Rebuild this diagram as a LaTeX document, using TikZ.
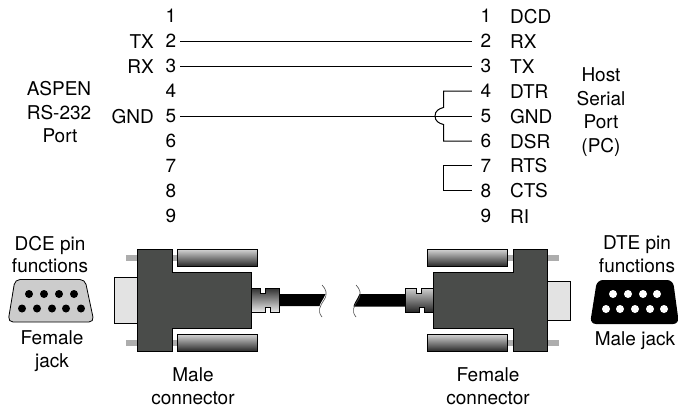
\documentclass[tikz,border=0pt]{standalone}
\usepackage{fontspec}
\setmainfont{TeX Gyre Heros}
\definecolor{bodygray}{HTML}{4A4C4A}
\tikzset{
  lbl/.style={inner sep=0pt,font=\fontsize{19}{19}\selectfont,anchor=base,text=black},
  lblR/.style={lbl,anchor=base east},
  lblL/.style={lbl,anchor=base west},
  pinnode/.style={lbl},
  wire/.style={draw=black,line width=1pt},
  body/.style={fill=bodygray,draw=black,line width=.6pt},
  shell/.style={fill=black!11,draw=black,line width=.6pt},
  pin/.style={fill=black!32,draw=none},
  screw/.style={top color=black!18,bottom color=black!85,draw=black,line width=.8pt},
  reliefdown/.style={top color=black!80,bottom color=black!8,draw=black,line width=.6pt},
  reliefup/.style={top color=black!20,bottom color=black!85,draw=black,line width=.6pt},
  cable/.style={fill=black,draw=none},
  brk/.style={draw=black!70,line width=.6pt},
}
\begin{document}
\begin{tikzpicture}[x=1pt,y=-1pt]
\useasboundingbox (0,0) rectangle (678,408);
% pin numbers
\foreach \n/\y in {1/22.8,2/47.8,3/72.8,4/97.8,5/122.8,6/147.8,7/172.3,8/197.5,9/222.8}{
  \node[pinnode] (l\n) at (171,\y) {\n};
  \node[pinnode] (r\n) at (486,\y) {\n};
}
% left labels
\node[lblR] (ltx) at (154,48.5) {TX};
\node[lblR] (lrx) at (154,73.5) {RX};
\node[lblR] (lgnd) at (154,123.5) {GND};
\node[lbl] (a1) at (59,95) {ASPEN};
\node[lbl] (a2) at (59,119) {RS-232};
\node[lbl] (a3) at (60,142) {Port};
% right labels
\node[lblL] (rdcd) at (510,23) {DCD};
\node[lblL] (rrx) at (510,48) {RX};
\node[lblL] (rtx) at (510,73) {TX};
\node[lblL] (rdtr) at (510,98) {DTR};
\node[lblL] (rgnd) at (510,123) {GND};
\node[lblL] (rdsr) at (510,148) {DSR};
\node[lblL] (rrts) at (510,172.5) {RTS};
\node[lblL] (rcts) at (510,197.5) {CTS};
\node[lblL] (rri) at (510,223) {RI};
\node[lbl] (h1) at (601,81) {Host};
\node[lbl] (h2) at (601,105) {Serial};
\node[lbl] (h3) at (601,128) {Port};
\node[lbl] (h4) at (601,152) {(PC)};
% wires
\draw[wire,shorten <=3.7pt,shorten >=8.7pt] (l2.east) -- (r2.west);
\draw[wire,shorten <=3.7pt,shorten >=8.7pt] (l3.east) -- (r3.west);
\draw[wire,shorten <=3.7pt,shorten >=8.7pt] (l5.east) -- (r5.west);
\coordinate (bx) at (443.5,100);
\draw[wire,shorten <=8.7pt,shorten >=8.7pt] (r4.west) -- (r4.west -| bx) -- (443.5,107.5)
  .. controls (439,108.5) and (435,111) .. (435,116)
  .. controls (435,121) and (439,123.5) .. (443.5,124.5) -- (r6.west -| bx) -- (r6.west);
\draw[wire,shorten <=8.7pt,shorten >=8.7pt] (r7.west) -- (r7.west -| bx) -- (r8.west -| bx) -- (r8.west);
% left jack
\draw[fill=black!20,draw=black,line width=.8pt,rounded corners=5pt]
  (15,279.5) -- (85,279.5) -- (94,322) -- (8,322) -- cycle;
\foreach \x in {29,44,59,74} \fill (\x,294) circle (4);
\foreach \x in {22,37,52,66,81} \fill (\x,308.5) circle (4);
% right jack
\fill[black,rounded corners=6pt] (597,280) -- (673,280) -- (679,324) -- (590,324) -- cycle;
\foreach \x in {613,628,643,657} \fill[white] (\x,294) circle (4);
\foreach \x in {606,620,635,650,664} \fill[white] (\x,309) circle (4);
% left connector
\fill[pin] (126,255) rectangle (137,261);
\fill[pin] (126,340) rectangle (137,346);
\fill[pin] (172,255) rectangle (177,261);
\fill[pin] (172,340) rectangle (177,346);
\draw[shell] (114.5,277.5) rectangle (137,323);
\draw[screw] (177,249.5) rectangle (257,266.5);
\draw[screw] (177,334.5) rectangle (257,351.5);
\draw[body] (137.5,249.5) -- (172,249.5) -- (172,272) -- (251,272) -- (251,328.5) -- (172,328.5) -- (172,351.5) -- (137.5,351.5) -- cycle;
\fill[cable] (278,294) -- (325.5,294) .. controls (323,300) and (320,303) .. (319.5,306) -- (278,306) -- cycle;
\draw[reliefdown] (251,288.5) -- (260,288.5) -- (260,293) -- (265,293) -- (265,288.5) -- (279,288.5) -- (279,312) -- (270,312) -- (270,307) -- (265,307) -- (265,312) -- (251,312) -- cycle;
\draw[brk] (322,285) .. controls (326,289) and (328,294) .. (324,300) .. controls (320,306) and (317,311) .. (322,317);
% right connector
\fill[pin] (547,255) rectangle (559,261);
\fill[pin] (547,340) rectangle (559,346);
\fill[pin] (508,255) rectangle (513,261);
\fill[pin] (508,340) rectangle (513,346);
\draw[shell] (547,281.5) rectangle (570,320);
\draw[screw] (427.5,249.5) rectangle (507.5,266.5);
\draw[screw] (427.5,334.5) rectangle (507.5,351.5);
\draw[body] (547,249.5) -- (513,249.5) -- (513,272) -- (433,272) -- (433,328.5) -- (513,328.5) -- (513,351.5) -- (547,351.5) -- cycle;
\fill[cable] (406,294) -- (359.5,294) .. controls (357,300) and (354,303) .. (353.5,306.5) -- (406,306.5) -- cycle;
\draw[reliefup] (433,288.5) -- (421,288.5) -- (421,293) -- (416,293) -- (416,288.5) -- (405.5,288.5) -- (405.5,312) -- (419,312) -- (419,307) -- (424,307) -- (424,312) -- (433,312) -- cycle;
\draw[brk] (356,285) .. controls (360,289) and (362,294) .. (358,300) .. controls (354,306) and (351,311) .. (356,317);
% bottom labels
\node[lbl] (d1) at (50,250) {DCE pin};
\node[lbl] (d2) at (50,272) {functions};
\node[lbl] (f1) at (52,344) {Female};
\node[lbl] (f2) at (52,367) {jack};
\node[lbl] (m1) at (193,381) {Male};
\node[lbl] (m2) at (193,404) {connector};
\node[lbl] (e1) at (637,249) {DTE pin};
\node[lbl] (e2) at (637,272) {functions};
\node[lbl] (mj) at (635,345) {Male jack};
\node[lbl] (g1) at (488,381) {Female};
\node[lbl] (g2) at (488,404) {connector};
\end{tikzpicture}
\end{document}
